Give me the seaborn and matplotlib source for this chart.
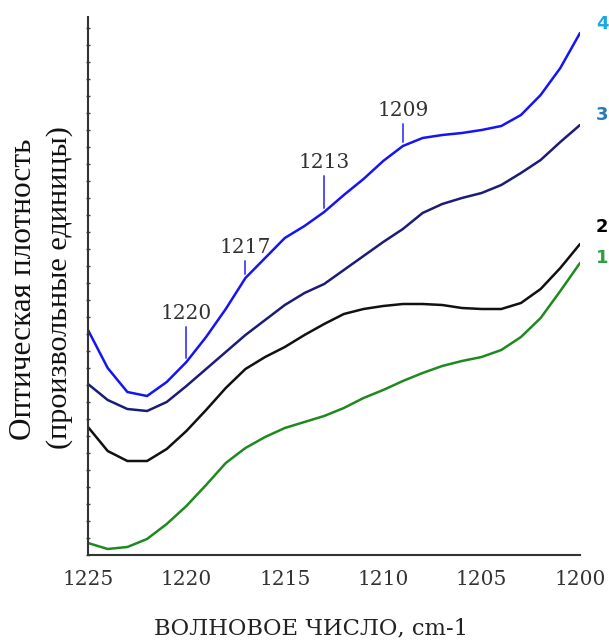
import numpy as np
import pandas as pd
import matplotlib
matplotlib.use("Agg")
import matplotlib.pyplot as plt
import seaborn as sns

# ---- data (arbitrary units) ----
wavenumber = list(range(1225, 1199, -1))

curve1 = [0.12, 0.06, 0.08, 0.16, 0.31, 0.49, 0.70, 0.92, 1.07, 1.18, 1.27, 1.33, 1.39,
          1.47, 1.57, 1.65, 1.74, 1.82, 1.89, 1.94, 1.98, 2.05, 2.18, 2.37, 2.64, 2.92]
curve2 = [1.28, 1.04, 0.94, 0.94, 1.06, 1.24, 1.45, 1.67, 1.86, 1.98, 2.08, 2.20, 2.31,
          2.41, 2.46, 2.49, 2.51, 2.51, 2.50, 2.47, 2.46, 2.46, 2.52, 2.66, 2.87, 3.11]
curve3 = [1.71, 1.55, 1.46, 1.44, 1.53, 1.69, 1.86, 2.03, 2.20, 2.35, 2.50, 2.62, 2.71,
          2.85, 2.99, 3.13, 3.26, 3.42, 3.51, 3.57, 3.62, 3.70, 3.82, 3.95, 4.13, 4.30]
curve4 = [2.25, 1.87, 1.63, 1.59, 1.73, 1.93, 2.18, 2.46, 2.77, 2.97, 3.17, 3.29, 3.43,
          3.60, 3.76, 3.94, 4.09, 4.17, 4.20, 4.22, 4.25, 4.29, 4.40, 4.60, 4.87, 5.22]

series_names = ["1", "2", "3", "4"]
peaks = [1220, 1217, 1213, 1209]
x_ticks = [1225, 1220, 1215, 1210, 1205, 1200]

# ---- styles ----
line_colors = {"1": "#1e8a1e", "2": "#111111", "3": "#1c1c78", "4": "#1414f5"}
label_colors = {"1": "#2aa040", "2": "#000000", "3": "#2a78c0", "4": "#1aa8e8"}
label_ypix = {"1": 258, "2": 227, "3": 115, "4": 24}
peak_tick_len = [0.31, 0.13, 0.32, 0.18]

df = pd.concat([
    pd.DataFrame({"wn": wavenumber, "A": vals, "curve": name})
    for name, vals in zip(series_names, [curve1, curve2, curve3, curve4])
])

sns.set_style("white")
plt.rcParams["font.family"] = ["DejaVu Serif"]

W, H = 609, 640
fig = plt.figure(figsize=(W / 100, H / 100), dpi=100)
ax = fig.add_axes([88 / W, 1 - 555 / H, (580 - 88) / W, (555 - 17) / H])

sns.lineplot(data=df, x="wn", y="A", hue="curve", palette=line_colors,
             linewidth=1.8, legend=False, ax=ax, sort=False)
for ln in ax.get_lines():
    ln.set_solid_joinstyle("round")

ax.set_xlim(1225, 1200)
ax.set_ylim(0, 5.38)
ax.set_xticks(x_ticks)
ax.set_xticklabels([str(t) for t in x_ticks], fontsize=14.5, color="#333333")
ax.set_yticks(np.arange(0, 5.39, 0.17), minor=True)
ax.set_yticks([])
ax.tick_params(axis="x", direction="inout", length=5, width=1, color="#444444", pad=8)
ax.tick_params(axis="y", which="minor", direction="inout", length=3, width=1,
               color="#444444", left=True)
for s in ["top", "right"]:
    ax.spines[s].set_visible(False)
for s in ["left", "bottom"]:
    ax.spines[s].set_color("#333333")
    ax.spines[s].set_linewidth(1.5)
ax.set_xlabel("")
ax.set_ylabel("")

# peak markers on curve 4
wn_arr = np.array(wavenumber)
c4 = np.array(curve4)
for p, ln in zip(peaks, peak_tick_len):
    yv = float(c4[wn_arr == p][0])
    ax.plot([p, p], [yv + 0.04, yv + 0.04 + ln], color="#5050ff", lw=1.4)
    ax.annotate(str(p), (p, yv + 0.04 + ln), xytext=(0, 3), textcoords="offset points",
                ha="center", va="bottom", fontsize=14.5, color="#333333")

# curve numbers on the right
for name in series_names:
    fig.text(602 / W, 1 - label_ypix[name] / H, name, ha="center", va="center",
             fontsize=13, fontweight="bold", color=label_colors[name],
             family=["DejaVu Sans"])

# axis titles
fig.text(311 / W, 1 - 628 / H, "ВОЛНОВОЕ ЧИСЛО, cm-1", ha="center", va="center",
         fontsize=16.3, color="#222222")
fig.text(24 / W, 1 - 289 / H, "Оптическая плотность", rotation=90, ha="center",
         va="center", fontsize=22.5, color="#111111", family=["Liberation Serif"])
fig.text(60 / W, 1 - 288 / H, "(произвольные единицы)", rotation=90, ha="center",
         va="center", fontsize=21.8, color="#111111", family=["Liberation Serif"])

fig.savefig("out.png", dpi=100, facecolor="white")
